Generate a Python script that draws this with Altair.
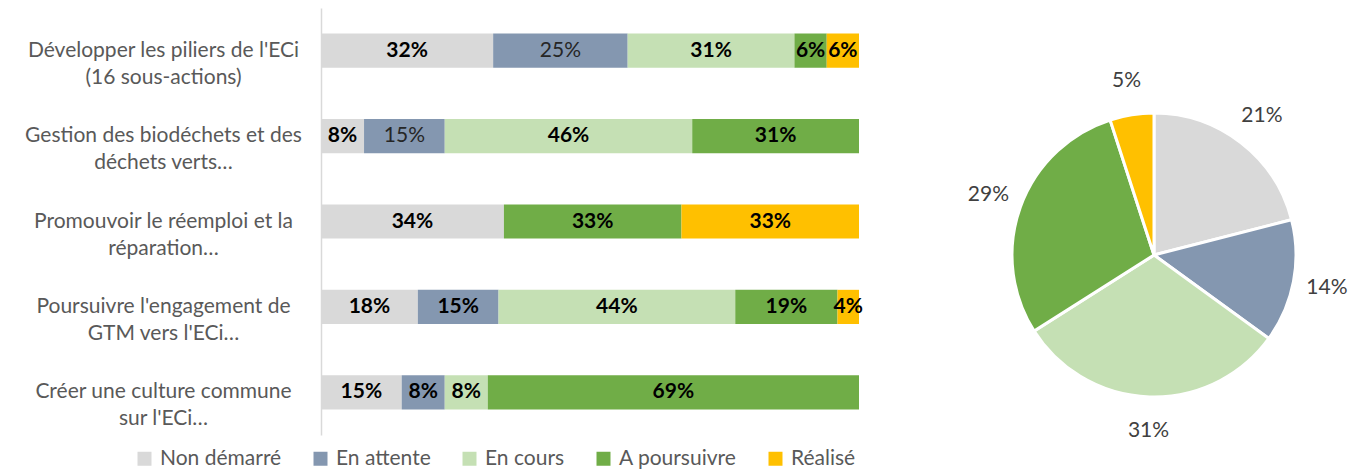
import altair as alt
import pandas as pd

categories = [
    "Développer les piliers de l'ECi\n(16 sous-actions)",
    "Gestion des biodéchets et des\ndéchets verts…",
    "Promouvoir le réemploi et la\nréparation…",
    "Poursuivre l'engagement de\nGTM vers l'ECi…",
    "Créer une culture commune\nsur l'ECi…",
]
statuses = ["Non démarré", "En attente", "En cours", "A poursuivre", "Réalisé"]
colors = ["#D9D9D9", "#8497B0", "#C5E0B4", "#70AD47", "#FFC000"]

non_demarre = [32, 8, 34, 18, 15]
en_attente = [25, 15, 0, 15, 8]
en_cours = [31, 46, 0, 44, 8]
a_poursuivre = [6, 31, 33, 19, 69]
realise = [6, 0, 33, 4, 0]

pie_values = [21, 14, 31, 29, 5]

series = [non_demarre, en_attente, en_cours, a_poursuivre, realise]
rows = []
for r, cat in enumerate(categories):
    start = 0
    for s, (status, vals) in enumerate(zip(statuses, series)):
        v = vals[r]
        if v > 0:
            rows.append(dict(cat=cat, row=r, status=status, idx=s, value=v,
                             start=start, end=start + v, mid=start + v / 2,
                             label=f"{v}%"))
        start += v
bars_df = pd.DataFrame(rows)

pie_df = pd.DataFrame(dict(status=statuses, value=pie_values,
                           idx=list(range(len(statuses))),
                           label=[f"{v}%" for v in pie_values]))

FONT = "Lato"
color_scale = alt.Scale(domain=statuses, range=colors)

y_enc = alt.Y("cat:N", sort=categories, title=None,
              scale=alt.Scale(paddingInner=0.6, paddingOuter=0.3),
              axis=alt.Axis(labelExpr="split(datum.label, '\\n')",
                            labelAlign="center", labelBaseline="middle",
                            labelPadding=158, labelLimit=500,
                            labelFontSize=21, labelLineHeight=27,
                            labelColor="#595959", labelFont=FONT,
                            ticks=False, domainColor="#D9D9D9",
                            domainWidth=1.5))

base = alt.Chart(bars_df)

bars = base.mark_bar().encode(
    y=y_enc,
    x=alt.X("start:Q", axis=None, scale=alt.Scale(domain=[0, 100], nice=False)),
    x2="end:Q",
    color=alt.Color("status:N", scale=color_scale, sort=statuses,
                    legend=alt.Legend(title=None, orient="none",
                                      direction="horizontal",
                                      legendX=-187, legendY=440,
                                      symbolType="square", symbolSize=196,
                                      symbolStrokeWidth=0,
                                      labelFontSize=21, labelColor="#595959",
                                      labelFont=FONT, columnPadding=28,
                                      labelOffset=5)),
)

cond_normal = "datum.row < 2 && datum.status == 'En attente'"

text_bold = base.transform_filter("!(" + cond_normal + ")").mark_text(
    fontSize=21, fontWeight="bold", color="#000000", font=FONT
).encode(y=alt.Y("cat:N", sort=categories), x="mid:Q", text="label:N")

text_norm = base.transform_filter(cond_normal).mark_text(
    fontSize=21, fontWeight="normal", color="#262626", font=FONT
).encode(y=alt.Y("cat:N", sort=categories), x="mid:Q", text="label:N")

bar_chart = alt.layer(bars, text_bold, text_norm).properties(width=538, height=427)

PIE_W = 380
pie_base = alt.Chart(pie_df).encode(
    theta=alt.Theta("value:Q", stack=True),
    order=alt.Order("idx:Q"),
    x=alt.value(PIE_W / 2),
    y=alt.value(247),
)
arcs = pie_base.mark_arc(radius=142, stroke="white", strokeWidth=3).encode(
    color=alt.Color("status:N", scale=color_scale, legend=None)
)
pie_labels = pie_base.mark_text(radius=176, fontSize=21, color="#404040",
                                font=FONT).encode(text="label:N")
pie_chart = alt.layer(arcs, pie_labels).properties(width=PIE_W, height=427)

chart = alt.hconcat(bar_chart, pie_chart, spacing=101).resolve_scale(
    color="independent"
).properties(
    padding={"left": 16, "top": 0, "right": 0, "bottom": 0},
    background="white",
).configure(font=FONT).configure_view(stroke=None)

chart.save("out.html", embed_options={"renderer": "svg", "actions": False})
